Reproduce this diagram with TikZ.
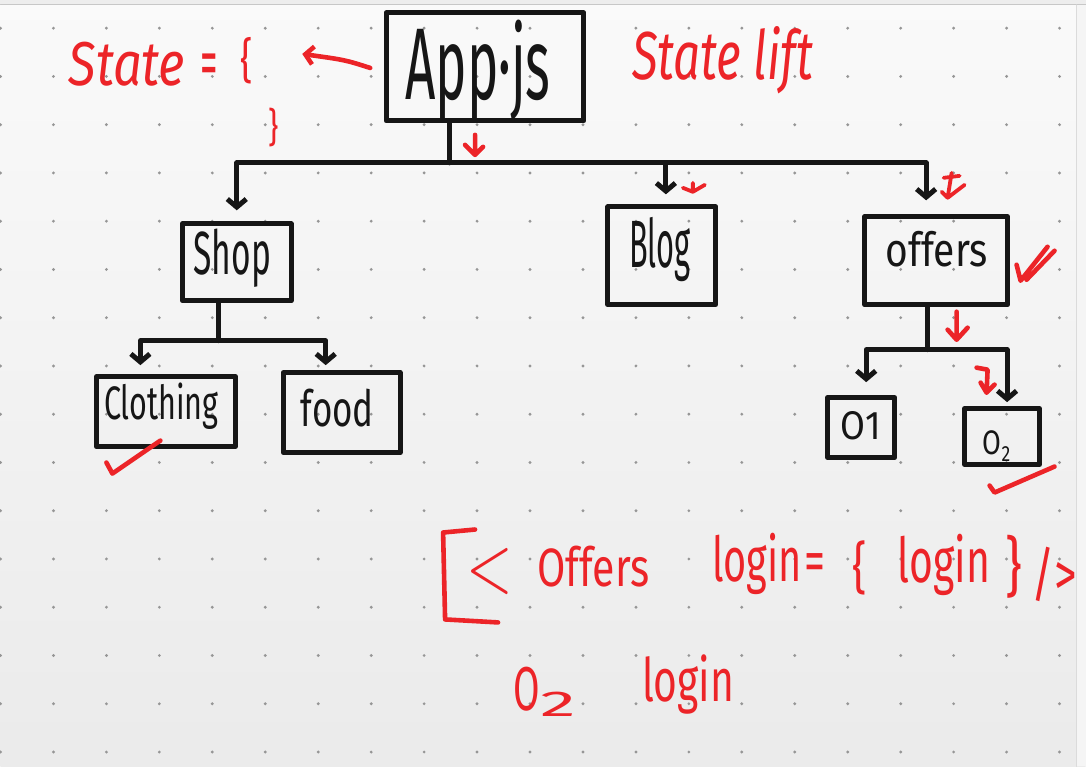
\documentclass[tikz,border=0pt]{standalone}
\usepackage{fontspec}
\setmainfont{Fira Sans}
\usepackage{graphicx}
\usetikzlibrary{arrows.meta}
\definecolor{ink}{RGB}{22,22,22}
\definecolor{pen}{RGB}{236,36,40}
\definecolor{dotc}{RGB}{150,150,150}
\newcommand\hw[3]{{\fontsize{#1}{#1}\selectfont\scalebox{#2}[1]{#3}}}
\begin{document}
\begin{tikzpicture}[x=1pt,y=-1pt,line cap=round,line join=round,
  box/.style={draw=ink,line width=5pt,inner sep=0pt},
  wire/.style={draw=ink,line width=5pt},
  arr/.style={wire,-{Straight Barb[length=8pt,width=19pt]}},
  blk/.style={text=ink,inner sep=0pt},
  rtxt/.style={text=pen,inner sep=0pt},
  rline/.style={draw=pen,line width=4.6pt},
  rarr/.style={rline,-{Straight Barb[length=8pt,width=18pt]}}]
% background
\shade[top color=white!98!black,bottom color=white!92!black] (0,0) rectangle (1086,767);
\fill[white!93!black] (0,0) rectangle (1086,5);
\draw[white!78!black,line width=1pt] (0,5) -- (1086,5);
\fill[white!96!black] (1077,5) rectangle (1086,767);
\draw[white!86!black,line width=1pt] (1077,5) -- (1077,767);
\useasboundingbox (0,0) rectangle (1086,767);
\foreach \i in {0,...,20}{\foreach \j in {0,...,15}{\fill[dotc] (53*\i,28.2+48.3*\j) circle (1.6);}}
% boxes
\node[box,minimum width=198,minimum height=108] (app) at (485,67) {};
\node[box,minimum width=109,minimum height=77] (shop) at (236.5,262.5) {};
\node[box,minimum width=108,minimum height=98] (blog) at (662,256) {};
\node[box,minimum width=143,minimum height=88] (offers) at (936.5,261) {};
\node[box,minimum width=139,minimum height=70] (clothing) at (165.5,412) {};
\node[box,minimum width=117,minimum height=80] (food) at (341.5,413) {};
\node[box,minimum width=67,minimum height=60] (o1) at (861.5,428) {};
\node[box,minimum width=75,minimum height=56] (o2) at (1002.5,437) {};
% box labels
\node[blk,anchor=base] (appT) at (478,100) {\hw{102}{0.52}{App·js}};
\node[blk,anchor=base] (shopT) at (232,275) {\hw{61}{0.55}{Shop}};
\node[blk,anchor=base] (blogT) at (660,268) {\hw{67}{0.46}{Blog}};
\node[blk,anchor=base] (offersT) at (937,267) {\hw{47}{0.83}{offers}};
\node[blk,anchor=base] (clothingT) at (161,420) {\hw{47}{0.65}{Clothing}};
\node[blk,anchor=base] (foodT) at (337,427) {\hw{50}{0.7}{food}};
\node[blk,anchor=base] (o1T) at (861,440) {\hw{40}{0.9}{O1}};
\node[blk,anchor=base] (o2T) at (997,455) {\hw{34}{0.8}{O\raisebox{-0.2em}{\fontsize{22}{22}\selectfont 2}}};
% tree connectors
\coordinate (appJ) at (449,163);
\draw[wire] (app.south -| appJ) -- (appJ);
\draw[arr,shorten >=11pt] (appJ) -| (shop.north);
\draw[arr,shorten >=10pt] (appJ) -| ([xshift=4pt]blog.north);
\draw[arr,shorten >=14pt] (appJ) -| ([xshift=-10pt]offers.north);
\coordinate (shopJ) at (218,341);
\draw[wire] (shop.south -| shopJ) -- (shopJ);
\draw[arr,shorten >=9pt] (shopJ) -| ([xshift=-25.5pt]clothing.north);
\draw[arr,shorten >=5pt] (shopJ) -| ([xshift=-16pt]food.north);
\coordinate (offJ) at (928,350);
\draw[wire] (offers.south -| offJ) -- (offJ);
\draw[arr,shorten >=13pt] (offJ) -| ([xshift=5pt]o1.north);
\draw[arr,shorten >=4pt] (offJ) -| ([xshift=5pt]o2.north);
% red notes top
\node[rtxt,anchor=base west] (stateT) at (68,86) {\hw{62}{0.82}{\itshape State}};
\node[rtxt] (eqT) at (209,70) {\hw{70}{0.5}{=}};
\node[rtxt] (lbT) at (246,61) {\hw{48}{0.8}{\{}};
\node[rtxt] (rbT) at (273,128) {\hw{40}{0.8}{\}}};
\coordinate (sArrT) at (370,68);
\coordinate (sArrH) at (302,54);
\draw[rarr] (sArrT) .. controls (345,60) .. (sArrH);
\node[rtxt,anchor=base west] (liftT) at (632,80) {\hw{68}{0.7}{\itshape State lift}};
% small red arrows
\draw[rline] (475,135) -- (475,155) (465,145) -- (475,155) -- (483,147);
\draw[rline,line width=3.8pt] (693,183) -- (693,192) (683,188) -- (693,192) -- (705,185);
\draw[rline,line width=3.8pt] (952,173) -- (948,198) (942,192) -- (948,198) -- (965,185) (944,178) -- (960,176);
\draw[rline] (957,312) -- (957,340) (948,330) -- (957,340) -- (968,328);
\draw[rline] (977,368) -- (988,370) -- (987,393) (981,383) -- (987,393) -- (995,385);
% red checks
\draw[rline] (106,463) -- (112,474) -- (160,441);
\draw[rline] (1017,265) -- (1021,281) -- (1048,247) (1027,280) -- (1055,251);
\draw[rline] (990,486) -- (995,493) -- (1055,467);
% bottom code
\draw[rline] (475,530) -- (443,533) -- (445,620) -- (498,623);
\node[rtxt] (ltT) at (490,572) {\scalebox{6}[8]{$<$}};
\node[rtxt,anchor=base west] (offersB) at (537,587) {\hw{54}{0.76}{Offers}};
\node[rtxt,anchor=base west] (login1) at (712,582) {\hw{62}{0.64}{login}};
\node[rtxt] (eq2) at (815,568) {\hw{60}{0.7}{=}};
\node[rtxt] (lb2) at (860,568) {\hw{56}{0.8}{\{}};
\node[rtxt,anchor=base west] (login2) at (898,583) {\hw{62}{0.66}{login}};
\node[rtxt] (rb2) at (1014,567) {\hw{65}{0.8}{\}}};
\node[rtxt] (close) at (1055,575) {\hw{60}{0.75}{/>}};
\node[rtxt,anchor=base west] (oB) at (513,711) {\hw{62}{0.62}{O}};
\node[rtxt,anchor=base west] (twoB) at (540,717) {\hw{36}{2.0}{2}};
\node[rtxt,anchor=base west] (login3) at (642,702) {\hw{60}{0.68}{login}};
\end{tikzpicture}
\end{document}
